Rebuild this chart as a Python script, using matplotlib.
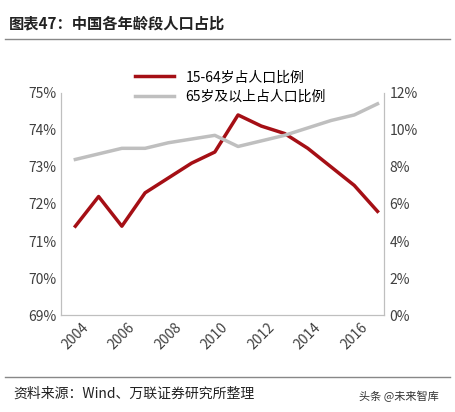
import matplotlib
matplotlib.use("Agg")
import matplotlib.pyplot as plt
from matplotlib.ticker import FuncFormatter

plt.rcParams['font.family'] = ['Noto Sans CJK SC', 'DejaVu Sans']

years = list(range(2004, 2018))
working_age = [71.4, 72.2, 71.4, 72.3, 72.7, 73.1, 73.4, 74.4, 74.1, 73.9, 73.5, 73.0, 72.5, 71.8]
elderly = [8.4, 8.7, 9.0, 9.0, 9.3, 9.5, 9.7, 9.1, 9.4, 9.7, 10.1, 10.5, 10.8, 11.4]
xticks = [2004, 2006, 2008, 2010, 2012, 2014, 2016]

fig = plt.figure(figsize=(4.55, 4.12), dpi=100)
ax = fig.add_axes([0.135, 0.235, 0.71, 0.54])
ax2 = ax.twinx()

l1, = ax.plot(years, working_age, color='#A50F15', lw=2.5, label='15-64岁占人口比例')
l2, = ax2.plot(years, elderly, color='#BFBFBF', lw=2.5, label='65岁及以上占人口比例')

ax.set_ylim(69, 75)
ax2.set_ylim(0, 12)
ax2.set_yticks(range(0, 13, 2))
ax.yaxis.set_major_formatter(FuncFormatter(lambda v, p: f"{v:.0f}%"))
ax2.yaxis.set_major_formatter(FuncFormatter(lambda v, p: f"{v:.0f}%"))
ax.set_xlim(2003.4, 2017.3)
ax.set_xticks(xticks)
ax.set_xticklabels([str(x) for x in xticks], rotation=45)
for a in (ax, ax2):
    a.spines['top'].set_visible(False)
    a.tick_params(labelsize=10, colors='#404040', length=0)
    a.spines['left'].set_color('#BFBFBF')
    a.spines['right'].set_color('#BFBFBF')
    a.spines['bottom'].set_color('#BFBFBF')

fig.legend(handles=[l1, l2], loc='upper left', bbox_to_anchor=(0.27, 0.86),
           frameon=False, fontsize=10, handlelength=2.8, labelspacing=0.4)

fig.text(0.02, 0.93, '图表47：中国各年龄段人口占比', fontsize=11, fontweight='bold', color='#222222')
fig.add_artist(plt.Line2D([0.01, 0.99], [0.905, 0.905], color='#888888', lw=1))
fig.add_artist(plt.Line2D([0.01, 0.99], [0.085, 0.085], color='#888888', lw=1))
fig.text(0.03, 0.035, '资料来源：Wind、万联证券研究所整理', fontsize=10, style='italic', color='#222222')
fig.text(0.79, 0.03, '头条 @未来智库', fontsize=8, color='#333333')

fig.savefig('out.png', dpi=100)
